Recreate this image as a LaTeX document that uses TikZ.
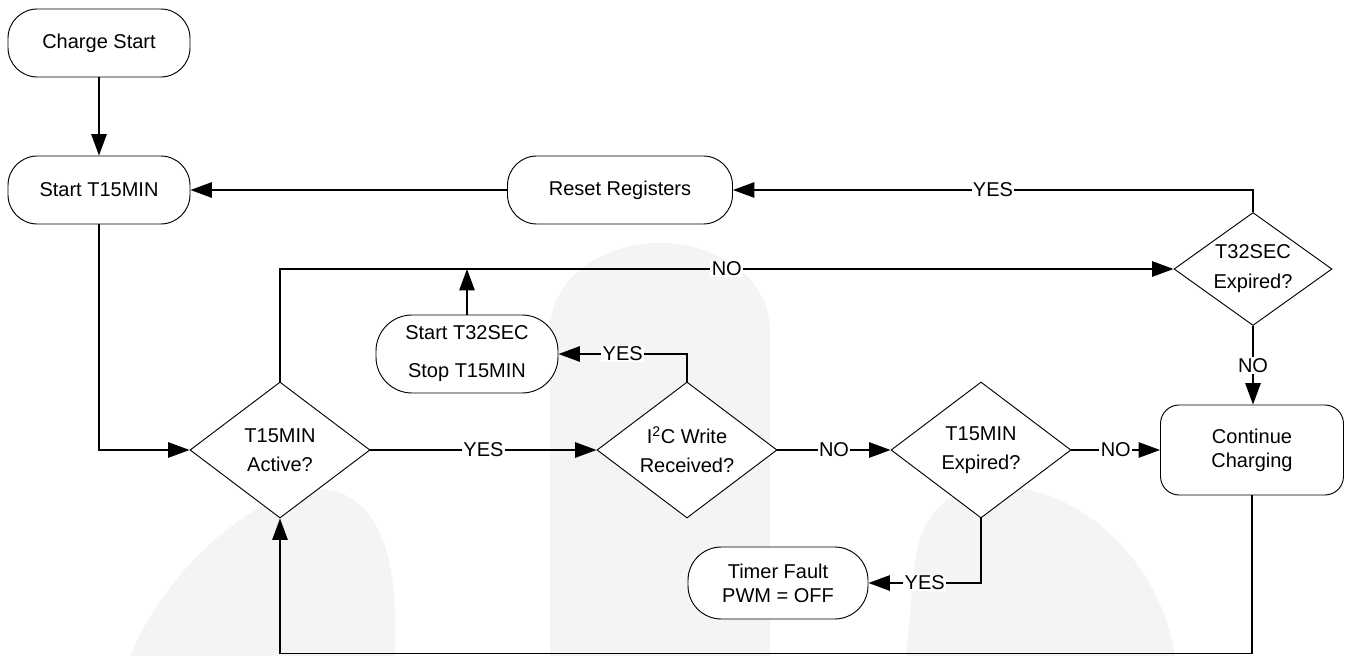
\documentclass[tikz,border=0pt]{standalone}
\usepackage{fontspec}
\setmainfont{Liberation Sans}
\usetikzlibrary{shapes.geometric,arrows.meta}
\definecolor{wm}{HTML}{F4F4F4}
\begin{document}
\begin{tikzpicture}[x=0.75pt,y=-0.75pt,
  every node/.style={font=\fontsize{15}{18}\selectfont},
  box/.style={draw=black,line width=0.7pt,fill=white,rounded corners=22pt,
    minimum width=136.5pt,minimum height=51pt,inner sep=0pt,align=center},
  dia/.style={draw=black,line width=0.7pt,fill=white,diamond,aspect=1.32,
    inner sep=0pt,minimum width=135pt,minimum height=102pt,align=center},
  conn/.style={line width=1.1pt,-{Triangle[length=16pt,width=11.5pt]}},
  plain/.style={line width=1.1pt},
  lab/.style={fill=white,inner sep=1pt}]
\useasboundingbox (0,0) rectangle (1346,656);
% faint watermark
\fill[wm] (550,656) -- (550,330) .. controls (550,280) and (600,243) .. (660,243)
  .. controls (720,243) and (770,280) .. (770,330) -- (770,656) -- cycle;
\fill[wm] (130,656) .. controls (170,560) and (270,480) .. (330,490)
  .. controls (380,500) and (395,560) .. (395,620) -- (395,656) -- cycle;
\fill[wm] (906,656) -- (915,560) .. controls (925,500) and (960,487) .. (1000,487)
  .. controls (1080,487) and (1160,560) .. (1175,656) -- cycle;
% nodes
\node[box] (cs) at (99,43) {Charge Start};
\node[box] (st) at (99,190) {Start T15MIN};
\node[box,minimum width=168.75pt] (rr) at (620,190) {Reset Registers};
\node[box,minimum height=58.5pt,rounded corners=27pt] (s32) at (467,354)
  {Start T32SEC\\[10.5pt]Stop T15MIN};
\node[box,minimum height=54pt,rounded corners=25pt,minimum width=135pt] (tf) at (778,583)
  {Timer Fault\\PWM = OFF};
\node[box,minimum width=137.25pt,minimum height=67.5pt,rounded corners=14pt] (cc) at (1252,450)
  {Continue\\Charging};
\node[dia] (d1) at (280,450) {T15MIN\\[3.75pt]Active?};
\node[dia] (d2) at (687,450) {I\textsuperscript{2}C Write\\[3.75pt]Received?};
\node[dia] (d3) at (981,450) {T15MIN\\[3.75pt]Expired?};
\node[dia,minimum width=118.5pt,minimum height=84.75pt,aspect=1.4] (d4) at (1253,269)
  {T32SEC\\[4.5pt]Expired?};
% connectors
\draw[conn] (cs.south) -- (st.north);
\draw[conn] (rr.west) -- (st.east);
\draw[conn] (st.south) |- (d1.west);
\draw[conn] (d1.north) |- node[lab,pos=0.75] {NO} (d4.west);
\draw[conn] (s32.north) -- (s32.north |- d4.west);
\draw[conn] (d1.east) -- node[lab] {YES} (d2.west);
\draw[conn] (d2.north) |- node[lab,pos=0.75] {YES} (s32.east);
\draw[conn] (d2.east) -- node[lab] {NO} (d3.west);
\draw[conn] (d3.east) -- node[lab] {NO} (cc.west);
\draw[conn] (d3.south) |- node[lab,pos=0.75] {YES} (tf.east);
\draw[conn] (cc.south) -- ++(0,158) -| (d1.south);
\draw[conn] (d4.north) |- node[lab,pos=0.75] {YES} (rr.east);
\draw[conn] (d4.south) -- node[lab] {NO} (d4.south |- cc.north);
\end{tikzpicture}
\end{document}
